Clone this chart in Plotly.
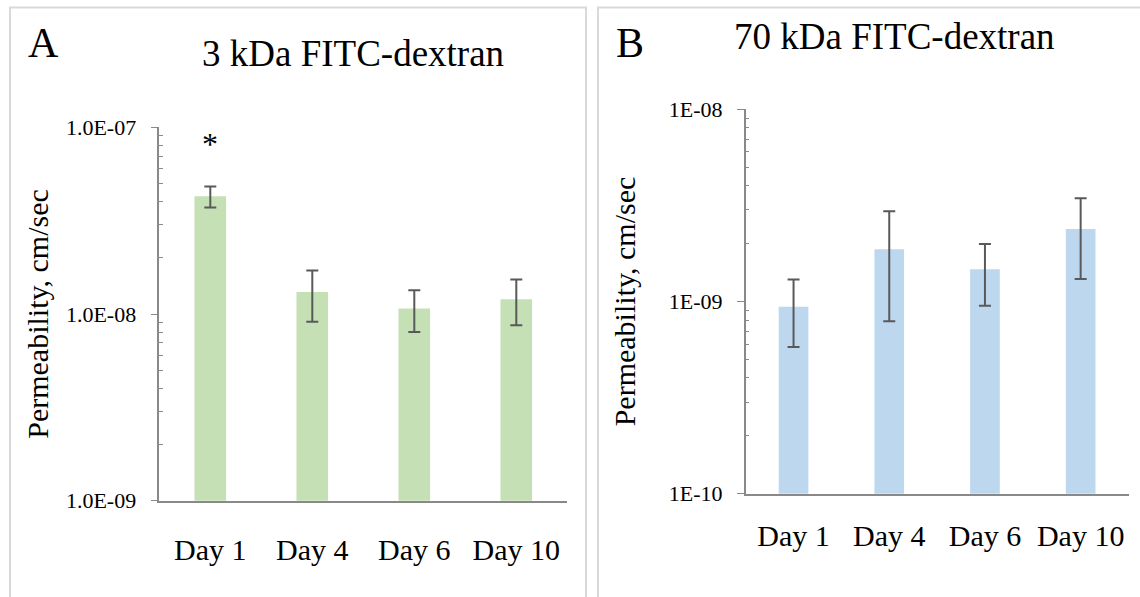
import math
import plotly.graph_objects as go

# ---- data ----
days = ["Day 1", "Day 4", "Day 6", "Day 10"]

perm_3kda = [4.27e-8, 1.31e-8, 1.07e-8, 1.20e-8]
err_3kda = [0.55e-8, 0.40e-8, 0.27e-8, 0.33e-8]

perm_70kda = [9.4e-10, 1.87e-9, 1.47e-9, 2.38e-9]
err_70kda = [0.36e-9, 1.08e-9, 0.52e-9, 1.07e-9]

ticks_3kda = [1e-9, 1e-8, 1e-7]
ticklabels_3kda = ["1.0E-09", "1.0E-08", "1.0E-07"]
ticks_70kda = [1e-10, 1e-9, 1e-8]
ticklabels_70kda = ["1E-10", "1E-09", "1E-08"]

significance = {"Day 1": "*"}

title_a = "3 kDa FITC-dextran"
title_b = "70 kDa FITC-dextran"
ytitle = "Permeability, cm/sec"

# ---- layout constants ----
W, H = 1140, 597
FONT = "Liberation Serif"
AXIS_GRAY = "#898989"
GREEN = "#C5E0B4"
BLUE = "#BDD7EE"
ERR = "#595959"


def px_x(p):
    return p / W


def px_y(p):
    return 1 - p / H


def minor_vals(major):
    out = []
    for m in major[:-1]:
        for k in range(2, 10):
            out.append(m * k)
    return out


fig = go.Figure()

fig.add_trace(go.Bar(
    x=days, y=perm_3kda, marker=dict(color=GREEN, line=dict(width=0)),
    error_y=dict(type="data", array=err_3kda, visible=True, color=ERR, thickness=2, width=6),
    xaxis="x", yaxis="y", showlegend=False,
))
fig.add_trace(go.Bar(
    x=days, y=perm_70kda, marker=dict(color=BLUE, line=dict(width=0)),
    error_y=dict(type="data", array=err_70kda, visible=True, color=ERR, thickness=2, width=6),
    xaxis="x2", yaxis="y2", showlegend=False,
))

common_x = dict(
    type="category", showline=True, linecolor=AXIS_GRAY, linewidth=1.5,
    ticks="", showgrid=False, zeroline=False, automargin=False,
    tickfont=dict(family=FONT, size=30, color="black"),
)

common_y = dict(
    type="log", showline=True, linecolor=AXIS_GRAY, linewidth=1.5,
    ticks="outside", ticklen=7, tickcolor=AXIS_GRAY, tickwidth=1.25,
    showgrid=False, zeroline=False, automargin=False,
    tickfont=dict(family=FONT, size=22, color="black"),
    ticklabelstandoff=10,
)

fig.update_layout(
    width=W, height=H, autosize=False,
    margin=dict(l=0, r=0, t=0, b=0, pad=0),
    paper_bgcolor="white", plot_bgcolor="white",
    bargap=0.69,
    font=dict(family=FONT, color="black"),
    xaxis=dict(domain=[px_x(159.3), px_x(567.3)], anchor="y", ticklabelstandoff=22, **common_x),
    yaxis=dict(
        domain=[px_y(500.7), px_y(127.3)], anchor="x",
        range=[-9, -7], tickmode="array", tickvals=ticks_3kda, ticktext=ticklabels_3kda,
        minor=dict(tickmode="array", tickvals=minor_vals(ticks_3kda), ticks="inside",
                   ticklen=4, tickcolor=AXIS_GRAY, tickwidth=1.25),
        title=dict(text=ytitle, font=dict(family=FONT, size=30, color="black"), standoff=8),
        **common_y,
    ),
    xaxis2=dict(domain=[px_x(745.7), px_x(1128.5)], anchor="y2", ticklabelstandoff=15, **common_x),
    yaxis2=dict(
        domain=[px_y(493.7), px_y(109.3)], anchor="x2",
        range=[-10, -8], tickmode="array", tickvals=ticks_70kda, ticktext=ticklabels_70kda,
        minor=dict(tickmode="array", tickvals=minor_vals(ticks_70kda), ticks="inside",
                   ticklen=4, tickcolor=AXIS_GRAY, tickwidth=1.25),
        title=dict(text=ytitle, font=dict(family=FONT, size=30, color="black"), standoff=24),
        **common_y,
    ),
)

# panel borders
border = dict(type="rect", xref="paper", yref="paper",
              line=dict(color="#D9D9D9", width=2), fillcolor="rgba(0,0,0,0)", layer="below")
fig.add_shape(x0=px_x(10), x1=px_x(586), y0=px_y(640), y1=px_y(7.5), **border)
fig.add_shape(x0=px_x(598), x1=px_x(1180), y0=px_y(640), y1=px_y(7.5), **border)

# panel letters and titles
fig.add_annotation(text="A", xref="paper", yref="paper", x=px_x(43), y=px_y(43),
                   showarrow=False, font=dict(family=FONT, size=42, color="black"),
                   xanchor="center", yanchor="middle")
fig.add_annotation(text="B", xref="paper", yref="paper", x=px_x(630), y=px_y(43),
                   showarrow=False, font=dict(family=FONT, size=42, color="black"),
                   xanchor="center", yanchor="middle")
fig.add_annotation(text=title_a, xref="paper", yref="paper", x=px_x(353), y=px_y(54),
                   showarrow=False, font=dict(family=FONT, size=37, color="black"),
                   xanchor="center", yanchor="middle")
fig.add_annotation(text=title_b, xref="paper", yref="paper", x=px_x(894), y=px_y(36),
                   showarrow=False, font=dict(family=FONT, size=37, color="black"),
                   xanchor="center", yanchor="middle")

# significance marks above error bars
for day, mark in significance.items():
    i = days.index(day)
    fig.add_annotation(text=mark, x=day, y=math.log10(perm_3kda[i] + err_3kda[i]),
                       xref="x", yref="y", showarrow=False, yshift=42,
                       font=dict(family=FONT, size=32, color="black"),
                       xanchor="center", yanchor="middle")

fig.write_html(
    "out.html",
    config={"responsive": False, "displayModeBar": False},
    post_script="document.body.style.margin='0';document.body.style.overflow='hidden';",
)
